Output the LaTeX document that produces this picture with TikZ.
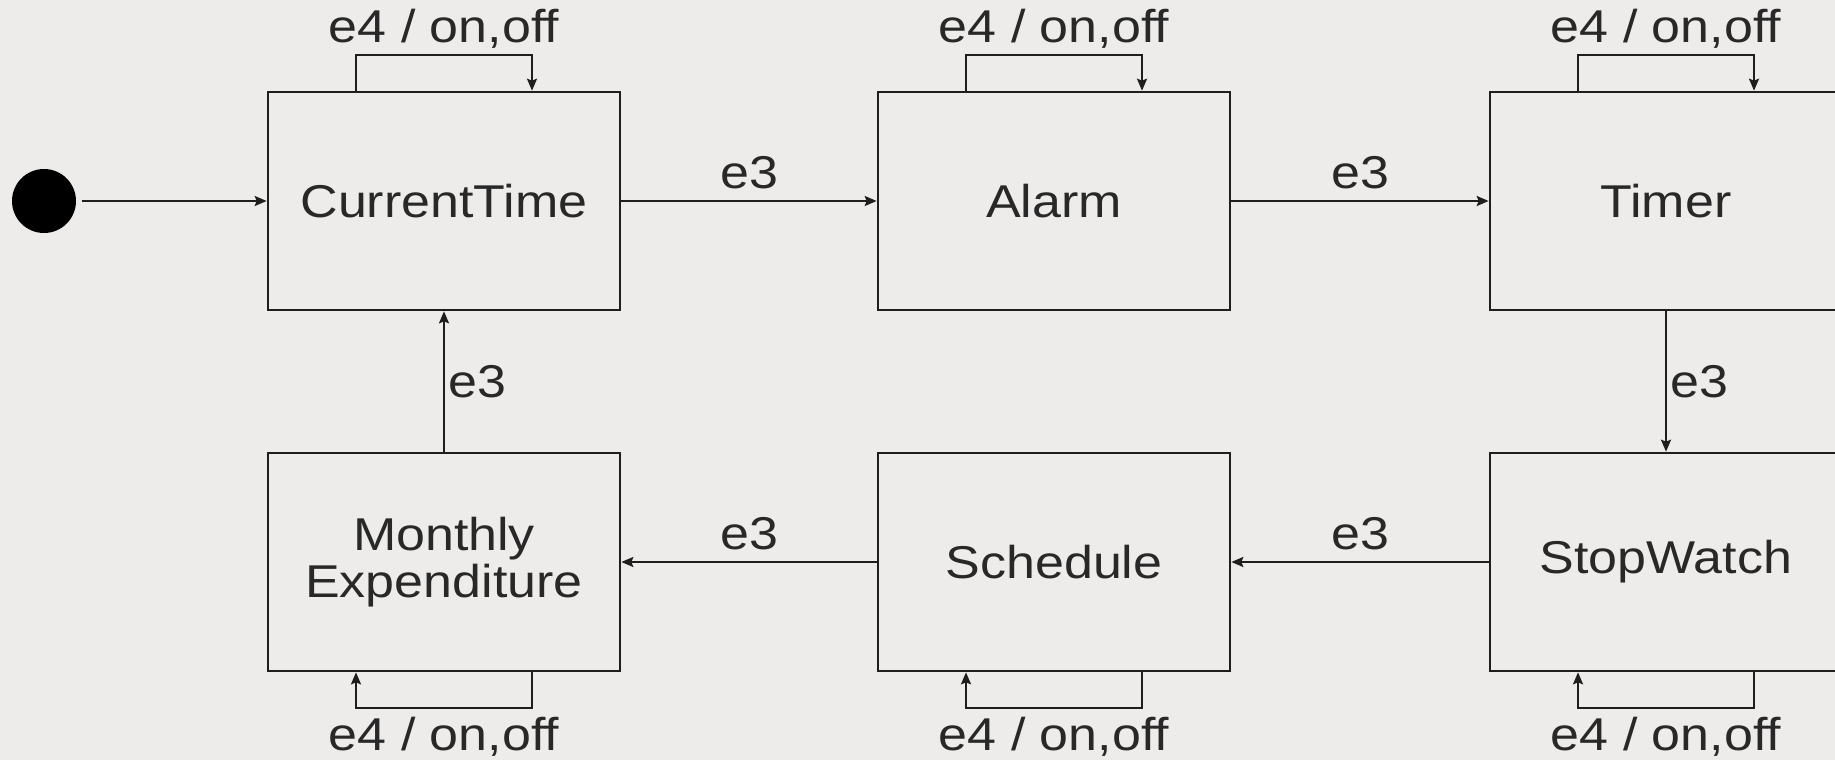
\documentclass[tikz,border=0pt]{standalone}
\usepackage{fontspec}
\setmainfont[FakeStretch=1.13]{Liberation Sans}
\usetikzlibrary{arrows.meta}
\definecolor{bgc}{RGB}{237,236,234}
\definecolor{inkc}{RGB}{30,30,30}
\definecolor{textc}{RGB}{40,40,40}
\begin{document}
\begin{tikzpicture}[x=1pt,y=-1pt,
  state/.style={draw=inkc, line width=2.6pt, fill=bgc, minimum width=352pt, minimum height=218pt,
    inner sep=0pt, align=center, font=\fontsize{46}{47}\selectfont, text=textc},
  arr/.style={draw=inkc, line width=2.2pt, -{Stealth[length=12pt,width=10pt,inset=2pt]}},
  lbl/.style={font=\fontsize{46}{54}\selectfont, text=textc, inner sep=0pt}]
  \clip (0,0) rectangle (1835,760);
  \fill[bgc] (0,0) rectangle (1835,760);

  % initial pseudo-state
  \node[circle, fill=black, minimum size=64pt, inner sep=0pt] (init) at (44,201) {};

  % states
  \node[state] (ct) at (444,201) {CurrentTime};
  \node[state] (al) at (1054,201) {Alarm};
  \node[state] (tm) at (1666,201) {Timer};
  \node[state] (sw) at (1666,562) {StopWatch};
  \node[state] (sc) at (1054,562) {Schedule};
  \node[state] (me) at (444,562) {Monthly\\Expenditure};

  % transitions on e3
  \draw[arr] (init.east) ++(6pt,0) -- (ct.west);
  \draw[arr] (ct) -- node[lbl, above=11pt] {e3} (al);
  \draw[arr] (al) -- node[lbl, above=11pt] {e3} (tm);
  \draw[arr] (tm) -- node[lbl, right=3pt] {e3} (sw);
  \draw[arr] (sw) -- node[lbl, above=11pt] {e3} (sc);
  \draw[arr] (sc) -- node[lbl, above=11pt] {e3} (me);
  \draw[arr] (me) -- node[lbl, right=3pt] {e3} (ct);

  % self transitions on e4 above the upper row
  \foreach \s in {ct,al,tm}{
    \draw[arr] ([xshift=-88pt]\s.north) -- ++(0,-36) -| ([xshift=88pt]\s.north);
    \node[lbl] at ([yshift=62pt]\s.north) {e4 / on,off};
  }
  % self transitions on e4 below the lower row
  \foreach \s in {me,sc,sw}{
    \draw[arr] ([xshift=88pt]\s.south) -- ++(0,36) -| ([xshift=-88pt]\s.south);
    \node[lbl] at ([yshift=-64pt]\s.south) {e4 / on,off};
  }
\end{tikzpicture}
\end{document}
